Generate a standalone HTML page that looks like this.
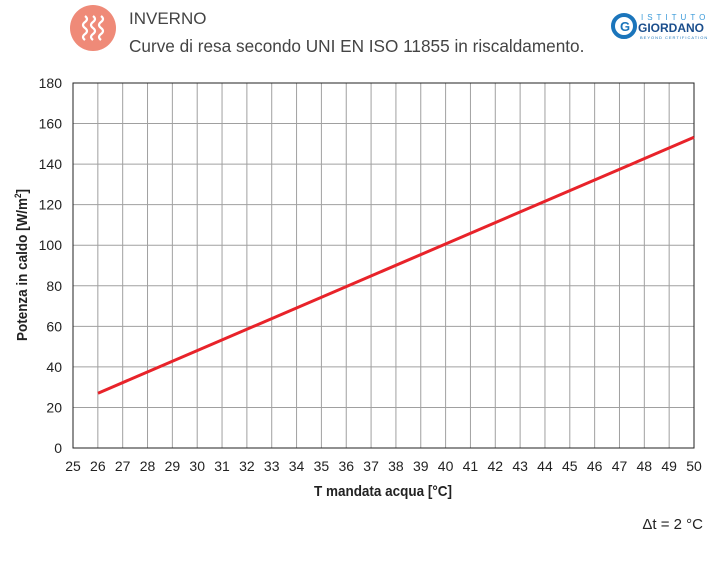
<!DOCTYPE html>
<html><head><meta charset="utf-8"><style>
body{margin:0;background:#fff;width:724px;height:563px;overflow:hidden;font-family:"Liberation Sans",sans-serif}
</style></head><body>
<svg width="724" height="563" xmlns="http://www.w3.org/2000/svg" font-family="Liberation Sans, sans-serif">
<circle cx="93" cy="28" r="23" fill="#ef8a78"/>
<g stroke="#fff" stroke-width="2.2" fill="none">
<path d="M85 16 q4 3 0 6 q-4 3 0 6 q4 3 0 6 q-4 3 0 6"/>
<path d="M93 16 q4 3 0 6 q-4 3 0 6 q4 3 0 6 q-4 3 0 6"/>
<path d="M101 16 q4 3 0 6 q-4 3 0 6 q4 3 0 6 q-4 3 0 6"/>
</g>
<text x="129" y="24" font-size="17" fill="#444">INVERNO</text>
<text x="129" y="52" font-size="17.2" fill="#444">Curve di resa secondo UNI EN ISO 11855 in riscaldamento.</text>
<circle cx="624" cy="26" r="11" fill="none" stroke="#1b75bb" stroke-width="4"/>
<text x="620" y="31" font-size="13" font-weight="bold" fill="#1b75bb">G</text>
<text x="641" y="20" font-size="8" fill="#3a9ad9" letter-spacing="4">ISTITUTO</text>
<text x="638" y="32" font-size="12" font-weight="bold" fill="#1b4e8c">GIORDANO</text>
<text x="640" y="39" font-size="4" fill="#1b75bb" letter-spacing="1">BEYOND CERTIFICATION</text>
<g id="grid" stroke="#a0a0a0" stroke-width="1" fill="none"></g>
<rect x="73" y="83" width="621" height="365" fill="none" stroke="#222" stroke-width="1"/>
<line x1="98" y1="393.2" x2="694" y2="137.3" stroke="#e8232a" stroke-width="3"/>
<g id="lbl" font-size="14" fill="#222"></g>
<text x="383" y="496" font-size="15" font-weight="bold" text-anchor="middle" fill="#222" transform="scale(0.9,1)" style="transform-origin:383px 496px">T mandata acqua [°C]</text>
<text transform="translate(27,265) rotate(-90) scale(0.9,1)" font-size="15" font-weight="bold" text-anchor="middle" fill="#222">Potenza in caldo [W/m<tspan font-size="9" dy="-6">2</tspan><tspan dy="6">]</tspan></text>
<text x="703" y="529" font-size="15" text-anchor="end" fill="#222">Δt = 2 °C</text>
</svg>
<script>
var g=document.getElementById('grid'),l=document.getElementById('lbl'),ns='http://www.w3.org/2000/svg';
function el(p,t,a,txt){var e=document.createElementNS(ns,t);for(var k in a)e.setAttribute(k,a[k]);if(txt!=null)e.textContent=txt;p.appendChild(e);}
for(var v=25;v<=50;v++){var x=73+(v-25)*24.84;el(g,'line',{x1:x,y1:83,x2:x,y2:448});el(l,'text',{x:x,y:471,'text-anchor':'middle'},v);}
for(var v=0;v<=180;v+=20){var y=448-v*2.028;el(g,'line',{x1:73,y1:y,x2:694,y2:y});el(l,'text',{x:62,y:y+5,'text-anchor':'end'},v);}
</script>
</body></html>
